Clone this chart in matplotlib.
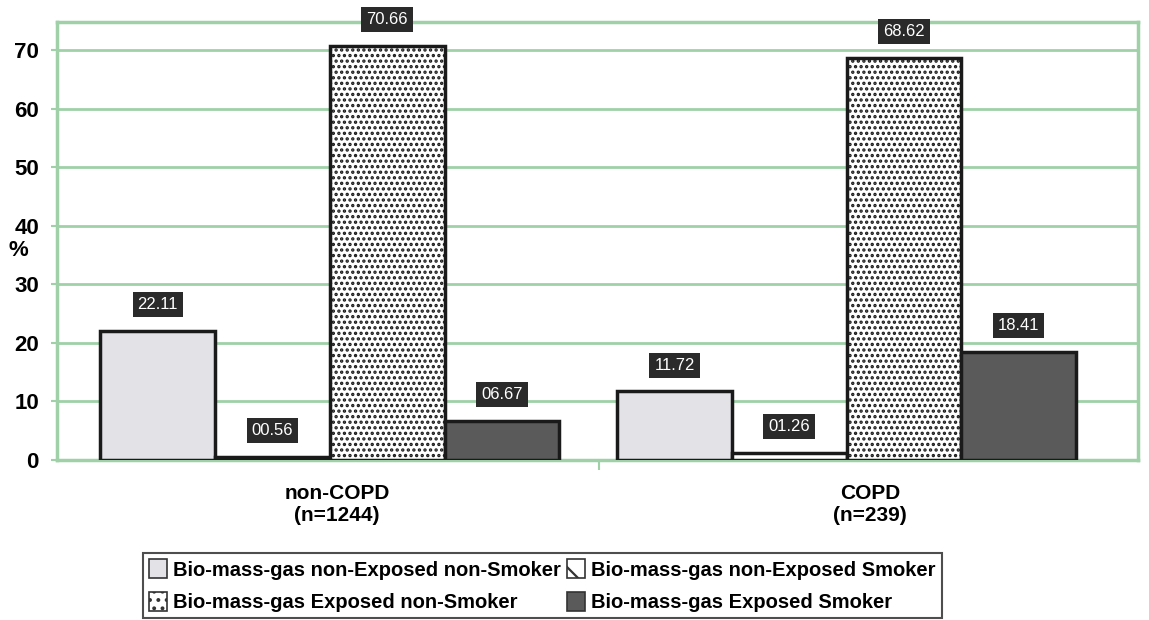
import matplotlib
matplotlib.use("Agg")
import matplotlib.pyplot as plt
from matplotlib.patches import Patch
import numpy as np

categories = ["non-COPD\n(n=1244)", "COPD\n(n=239)"]
series_names = [
    "Bio-mass-gas non-Exposed non-Smoker",
    "Bio-mass-gas non-Exposed Smoker",
    "Bio-mass-gas Exposed non-Smoker",
    "Bio-mass-gas Exposed Smoker",
]
s1 = [22.11, 11.72]
s2 = [0.56, 1.26]
s3 = [70.66, 68.62]
s4 = [6.67, 18.41]
labels1 = ["22.11", "11.72"]
labels2 = ["00.56", "01.26"]
labels3 = ["70.66", "68.62"]
labels4 = ["06.67", "18.41"]
yticks = [0, 10, 20, 30, 40, 50, 60, 70]

plt.rcParams['font.family'] = ['Liberation Sans', 'DejaVu Sans']
plt.rcParams['hatch.linewidth'] = 1.6
plt.rcParams['hatch.color'] = '#111111'

fig = plt.figure(figsize=(11.49, 6.2), dpi=100)
ax = fig.add_axes([0.0496, 0.258, 0.9404, 0.7065])

green = "#9fd0a8"
edge = "#1a1a1a"
w = 0.222
x = np.arange(len(categories))
styles = [
    dict(facecolor="#e2e2e7", hatch=None),
    dict(facecolor="white", hatch=None),
    dict(facecolor="white", hatch="..."),
    dict(facecolor="#5a5a5a", hatch=None),
]
legend_styles = [
    dict(facecolor="#e2e2e7", hatch=None),
    dict(facecolor="white", hatch="\\"),
    dict(facecolor="white", hatch=".."),
    dict(facecolor="#5a5a5a", hatch=None),
]
all_vals = [s1, s2, s3, s4]
all_labels = [labels1, labels2, labels3, labels4]
for i, (vals, labs, st) in enumerate(zip(all_vals, all_labels, styles)):
    pos = x + (i - 1.5) * w
    ax.bar(pos, vals, width=w, facecolor=st["facecolor"], edgecolor=edge,
           linewidth=2.5, hatch=st["hatch"], zorder=3)
    for p, v, l in zip(pos, vals, labs):
        ax.annotate(l, (p, v), xytext=(0, 19), textcoords="offset points",
                    ha="center", va="center", color="white", fontsize=12,
                    bbox=dict(boxstyle="square,pad=0.3", facecolor="#2a2a2a", edgecolor="none"),
                    zorder=5)

ax.set_ylim(0, 74.8)
ax.set_xlim(-0.528, 1.563)
ax.set_yticks(yticks)
ax.set_yticklabels([str(t) for t in yticks], fontsize=16, fontweight="bold")
ax.yaxis.grid(True, color=green, linewidth=2, zorder=0)
ax.set_axisbelow(True)
for sp in ax.spines.values():
    sp.set_color(green)
    sp.set_linewidth(2.5)
ax.tick_params(axis="y", length=4, color=green, width=1.5, pad=9)
ax.set_xticks([0.52])
ax.set_xticklabels([""])
ax.tick_params(axis="x", length=7, color=green, width=1.5)
for xi, c in zip([0.014, 1.046], categories):
    ax.annotate(c, (xi, 0), xycoords=("data", "axes fraction"), xytext=(0, -17),
                textcoords="offset points", ha="center", va="top", fontsize=15,
                fontweight="bold", linespacing=1.2)
ax.annotate("%", (0, 35.8), xycoords=("axes fraction", "data"), xytext=(-28, 0),
            textcoords="offset points", ha="center", va="center", fontsize=16,
            fontweight="bold")

proxies = [Patch(facecolor=st["facecolor"], edgecolor="#333333", hatch=st["hatch"],
                 linewidth=1.2) for st in legend_styles]
order = [0, 2, 1, 3]
leg = fig.legend(handles=[proxies[k] for k in order],
                 labels=[series_names[k] for k in order], ncol=2, loc="upper left",
                 bbox_to_anchor=(0.1245, 1 - 553 / 620), frameon=True, fancybox=False,
                 prop=dict(weight="bold", size=14.5), handlelength=0.9, handleheight=1.1,
                 columnspacing=0.3, handletextpad=0.3, borderpad=0.3,
                 labelspacing=0.6, edgecolor="#222222", borderaxespad=0)
leg.get_frame().set_linewidth(1.5)

fig.savefig("out.png", dpi=100)
